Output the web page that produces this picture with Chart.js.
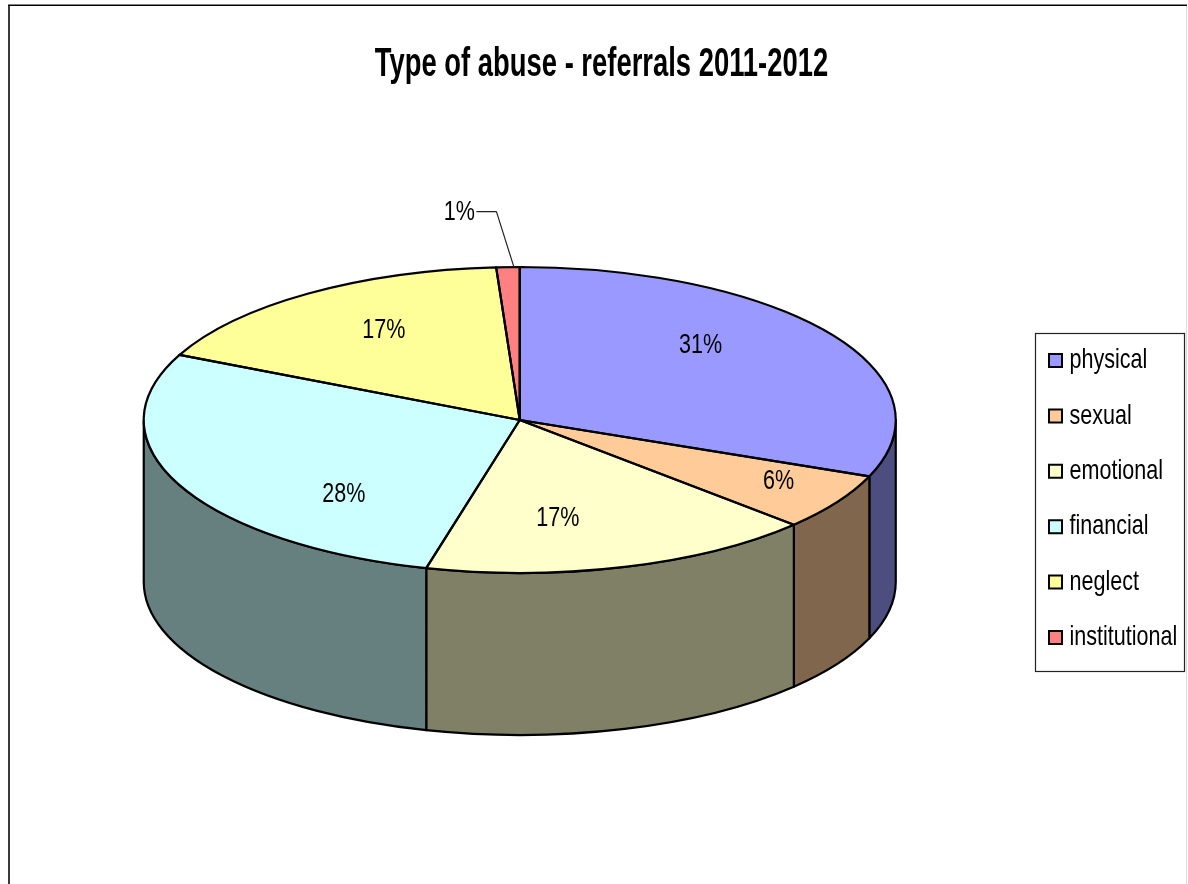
<!DOCTYPE html>
<html>
<head>
<meta charset="utf-8">
<style>
  html, body { margin: 0; padding: 0; background: #fff; }
  #wrap { width: 1188px; height: 884px; position: relative; overflow: hidden; }
</style>
<script src="https://cdn.jsdelivr.net/npm/chart.js@4/dist/chart.umd.min.js"></script>
</head>
<body>
<div id="wrap"><canvas id="chart" width="1188" height="884"></canvas></div>
<script>
const titleText = 'Type of abuse - referrals 2011-2012';
const categories = ['physical', 'sexual', 'emotional', 'financial', 'neglect', 'institutional'];
const shares = [31, 6, 17, 28, 17, 1];
const topColours = ['#9999FF', '#FFCC99', '#FFFFCC', '#CCFFFF', '#FFFF99', '#FF8080'];
const wallColours = ['#4D4D80', '#80664D', '#808066', '#668080', '#808050', '#804040'];

// Pixel offsets of each percentage label from its default spot inside the slice.
const labelNudges = [[-12, -21], [62, 10], [-27, 7], [35, 34], [-5, -11], [-53, -113]];

const FONT = '"Liberation Sans", Arial, sans-serif';
const TITLE_SQUEEZE = 0.685;
const TEXT_SQUEEZE = 0.77;
const TILT = 153 / 376;      // vertical squash of the disc
const DISC_Y = 420;          // centre of the top face
const DEPTH = 162;           // height of the cylinder wall

function discOf(chart) {
  const arcs = chart.getDatasetMeta(0).data;
  return { arcs, x: arcs[0].x, y: arcs[0].y, r: arcs[0].outerRadius };
}

// Puts the context in the tilted space of the top face.
function enterDisc(ctx, d) {
  ctx.translate(d.x, DISC_Y);
  ctx.scale(1, TILT);
  ctx.translate(-d.x, -d.y);
}

// Writes a string narrowed horizontally around its anchor point.
function narrowText(ctx, plainFillText, sx, text, x, y) {
  ctx.save();
  ctx.translate(x, y);
  ctx.scale(sx, 1);
  plainFillText.call(ctx, text, 0, 0);
  ctx.restore();
}

// Makes a layout box draw all of its text narrowed.
function narrowBoxText(box, ctx, sx) {
  const draw = box.draw;
  box.draw = function (...args) {
    const plain = ctx.fillText;
    ctx.fillText = (t, x, y) => narrowText(ctx, plain, sx, t, x, y);
    draw.apply(box, args);
    delete ctx.fillText;
  };
}

const cylinder = {
  id: 'cylinder',
  afterLayout(chart) {
    // Fine placement of the title and the legend column.
    const t = chart.titleBlock;
    const l = chart.legend;
    const titleCentre = (t.left + t.right) / 2;
    t.left += 601.5 - titleCentre; t.right += 601.5 - titleCentre;
    l.left = 1055.5 - chart.options.plugins.legend.labels.padding;
    l.top += 60; l.bottom += 60;
    if (!t.narrowed) {
      narrowBoxText(t, chart.ctx, TITLE_SQUEEZE);
      narrowBoxText(l, chart.ctx, TEXT_SQUEEZE);
      t.narrowed = true;
    }
  },
  beforeDraw(chart) {
    const { ctx, width, height } = chart;
    ctx.save();
    ctx.fillStyle = '#fff';
    ctx.fillRect(0, 0, width, height);
    // Outer frame of the chart object
    ctx.fillStyle = '#3a3a3a';
    ctx.fillRect(8, 5, 2, height - 5);
    ctx.fillStyle = '#000';
    ctx.fillRect(8, 4.5, width - 9, 1.5);
    ctx.fillStyle = '#dcdcdc';
    ctx.fillRect(1186, 6, 1, height - 6);
    // Legend frame
    ctx.strokeStyle = '#222';
    ctx.lineWidth = 1.2;
    ctx.strokeRect(1035.5, 333.5, 149, 338);
    ctx.restore();
  },
  beforeDatasetsDraw(chart) {
    const { ctx } = chart;
    const d = discOf(chart);
    const ry = d.r * TILT;
    ctx.save();
    ctx.lineJoin = 'round';
    d.arcs.forEach((arc, i) => {
      // Only the part of a slice facing the viewer shows a wall (canvas angles 0..PI).
      const tau = Math.PI * 2;
      let a = arc.startAngle, b = arc.endAngle;
      while (a < 0) { a += tau; b += tau; }
      let from = null, to = null;
      if (a < Math.PI && b > 0) { from = Math.max(a, 0); to = Math.min(b, Math.PI); }
      if (b > tau && b - tau > 0) { from = 0; to = Math.min(b - tau, Math.PI); }
      if (from === null || to <= from) return;
      ctx.beginPath();
      ctx.ellipse(d.x, DISC_Y, d.r, ry, 0, from, to);
      ctx.ellipse(d.x, DISC_Y + DEPTH, d.r, ry, 0, to, from, true);
      ctx.closePath();
      ctx.fillStyle = wallColours[i];
      ctx.fill();
      ctx.strokeStyle = '#000';
      ctx.lineWidth = 2.2;
      ctx.stroke();
    });
    ctx.restore();
  },
  beforeDatasetDraw(chart) {
    const { ctx } = chart;
    ctx.save();
    enterDisc(ctx, discOf(chart));
  },
  afterDatasetDraw(chart) {
    const { ctx } = chart;
    ctx.restore();
    const d = discOf(chart);
    const ry = d.r * TILT;

    // Slice outlines, stroked in screen space so the pen stays even.
    ctx.save();
    ctx.strokeStyle = '#000';
    ctx.lineWidth = 2.2;
    ctx.lineJoin = 'round';
    d.arcs.forEach(arc => {
      ctx.beginPath();
      ctx.moveTo(d.x, DISC_Y);
      ctx.ellipse(d.x, DISC_Y, d.r, ry, 0, arc.startAngle, arc.endAngle);
      ctx.closePath();
      ctx.stroke();
    });

    // Percentage labels
    ctx.fillStyle = '#000';
    ctx.font = '28px ' + FONT;
    ctx.textAlign = 'center';
    ctx.textBaseline = 'middle';
    let inst = null;
    d.arcs.forEach((arc, i) => {
      const mid = (arc.startAngle + arc.endAngle) / 2;
      const lx = d.x + 0.62 * d.r * Math.cos(mid) + labelNudges[i][0];
      const ly = DISC_Y + 0.62 * ry * Math.sin(mid) + labelNudges[i][1];
      narrowText(ctx, ctx.fillText, TEXT_SQUEEZE, shares[i] + '%', lx, ly);
      if (i === shares.length - 1) inst = { lx, ly, mid };
    });

    // Leader line of the smallest slice
    ctx.strokeStyle = '#222';
    ctx.lineWidth = 1.2;
    ctx.beginPath();
    ctx.moveTo(inst.lx + 17, inst.ly - 0.5);
    ctx.lineTo(inst.lx + 37, inst.ly - 0.5);
    ctx.lineTo(d.x + d.r * Math.cos(inst.mid) + 6, DISC_Y + ry * Math.sin(inst.mid));
    ctx.stroke();
    ctx.restore();
  }
};

new Chart(document.getElementById('chart'), {
  type: 'pie',
  data: {
    labels: categories,
    datasets: [{
      data: shares,
      backgroundColor: topColours,
      borderWidth: 0
    }]
  },
  plugins: [cylinder],
  options: {
    responsive: false,
    animation: false,
    layout: { padding: { left: 43, right: 0, top: 0, bottom: 6 } },
    plugins: {
      tooltip: { enabled: false },
      title: {
        display: true,
        text: titleText,
        color: '#000',
        font: { family: FONT, size: 40, weight: 'bold', lineHeight: 1.2 },
        padding: { top: 41, bottom: 37 }
      },
      legend: {
        display: true,
        position: 'right',
        labels: {
          color: '#000',
          font: { family: FONT, size: 28 },
          padding: 27.4,
          boxWidth: 0.01,
          boxHeight: 13,
          usePointStyle: true,
          generateLabels(chart) {
            const items = Chart.overrides.pie.plugins.legend.labels.generateLabels(chart);
            return items.map(it => Object.assign(it, { strokeStyle: '#000', lineWidth: 2, pointStyle: 'rect' }));
          }
        }
      }
    }
  }
});
</script>
</body>
</html>
